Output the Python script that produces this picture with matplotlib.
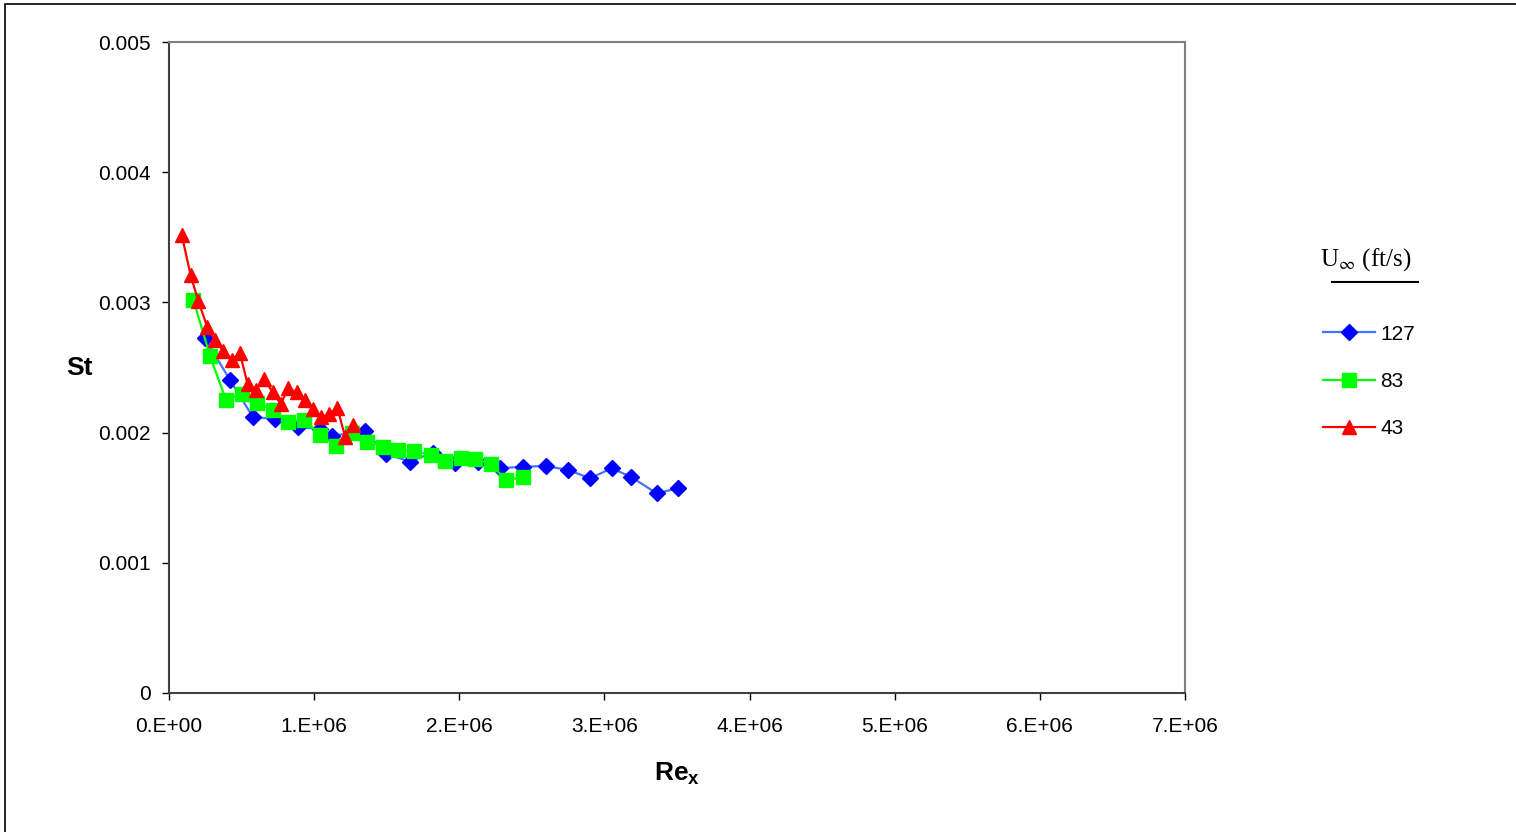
import matplotlib
matplotlib.use("Agg")
import matplotlib.pyplot as plt
from matplotlib.lines import Line2D
from matplotlib.patches import Rectangle

plt.rcParams["font.family"] = ["Liberation Sans", "DejaVu Sans"]
plt.rcParams["mathtext.fontset"] = "custom"
plt.rcParams["mathtext.rm"] = "Liberation Sans"
plt.rcParams["mathtext.bf"] = "Liberation Sans:bold"

# Re_x (millions) and Stanton number
re_127 = [0.248, 0.420, 0.577, 0.730, 0.891, 1.042, 1.121, 1.350, 1.495, 1.660,
          1.817, 1.971, 2.131, 2.281, 2.441, 2.597, 2.751, 2.901, 3.050, 3.181,
          3.360, 3.509]
st_127 = [0.002724, 0.002404, 0.002122, 0.002102, 0.002041, 0.002028, 0.001974,
          0.002012, 0.001836, 0.001777, 0.001846, 0.001764, 0.001777, 0.001726,
          0.001738, 0.001743, 0.001713, 0.001649, 0.001726, 0.001661, 0.001534,
          0.001572]

re_83 = [0.168, 0.282, 0.393, 0.501, 0.609, 0.719, 0.822, 0.930, 1.040, 1.151,
         1.258, 1.366, 1.476, 1.580, 1.690, 1.803, 1.902, 2.010, 2.108, 2.217,
         2.320, 2.437]
st_83 = [0.00302, 0.00259, 0.00225, 0.00230, 0.00223, 0.00217, 0.00208, 0.00210,
         0.00198, 0.00190, 0.00200, 0.00193, 0.001892, 0.001866, 0.001859,
         0.001828, 0.001784, 0.001803, 0.001795, 0.001759, 0.001636, 0.001657]

re_43 = [0.0875, 0.149, 0.202, 0.264, 0.317, 0.374, 0.432, 0.489, 0.542, 0.599,
         0.657, 0.714, 0.770, 0.822, 0.880, 0.937, 0.994, 1.047, 1.104, 1.160,
         1.213, 1.266]
st_43 = [0.003518, 0.00321, 0.00301, 0.00281, 0.00271, 0.00263, 0.00256, 0.00261,
         0.00237, 0.00233, 0.00241, 0.00231, 0.00222, 0.00234, 0.00231, 0.00225,
         0.00218, 0.00212, 0.00214, 0.00219, 0.00197, 0.00206]

x_ticks = [0, 1e6, 2e6, 3e6, 4e6, 5e6, 6e6, 7e6]
x_labels = ["0.E+00", "1.E+06", "2.E+06", "3.E+06", "4.E+06", "5.E+06", "6.E+06", "7.E+06"]
y_ticks = [0, 0.001, 0.002, 0.003, 0.004, 0.005]
y_labels = ["0", "0.001", "0.002", "0.003", "0.004", "0.005"]

fig = plt.figure(figsize=(15.16, 8.32), dpi=100)
ax = fig.add_axes([169 / 1516, 1 - 693 / 832, (1185 - 169) / 1516, (693 - 42) / 832])

series = [
    (re_127, st_127, "127", "#4474ff", "#0000ff", "D", 8.5),
    (re_83, st_83, "83", "#00ff00", "#00ff00", "s", 9.5),
    (re_43, st_43, "43", "#ff0000", "#ff0000", "^", 10.5),
]
for re, st, lab, lc, mc, mk, ms in series:
    ax.plot([r * 1e6 for r in re], st, color=lc, lw=1.6, marker=mk, ms=ms,
            mfc=mc, mec=mc, label=lab)

ax.set_xlim(0, 7e6)
ax.set_ylim(0, 0.005)
ax.set_xticks(x_ticks)
ax.set_xticklabels(x_labels)
ax.set_yticks(y_ticks)
ax.set_yticklabels(y_labels)
ax.tick_params(labelsize=15, direction="out", length=5, width=1, pad=8)
ax.tick_params(axis="x", pad=12)

for side in ("top", "right"):
    ax.spines[side].set_color("#808080")
    ax.spines[side].set_linewidth(1.5)
for side in ("left", "bottom"):
    ax.spines[side].set_color("#404040")
    ax.spines[side].set_linewidth(1.5)

ax.set_xlabel(r"$\mathbf{Re_x}$", fontsize=19, labelpad=18)
fig.text(79 / 1516, 1 - 368 / 832, "St", fontsize=19, fontweight="bold",
         ha="center", va="center")

# legend
fig.text(1366 / 1516, 1 - 260 / 832, r"U$_{\infty}$ (ft/s)", fontsize=18,
         family=["Liberation Serif"], ha="center", va="center",
         math_fontfamily="stix")
fig.add_artist(Line2D([1332 / 1516, 1418 / 1516], [1 - 282 / 832, 1 - 282 / 832],
                      color="black", lw=1.5))
ax.legend(loc="upper left", bbox_to_anchor=(1304 / 1516, 1 - 306 / 832),
          bbox_transform=fig.transFigure, frameon=False, fontsize=15,
          handlelength=2.5, labelspacing=1.35, handletextpad=0.25)

# outer chart border
fig.add_artist(Rectangle((5 / 1516, -0.05), 1.1, 1 - 4 / 832 + 0.05,
                         fill=False, ec="black", lw=1.2,
                         transform=fig.transFigure))

fig.savefig("out.png", dpi=100)
